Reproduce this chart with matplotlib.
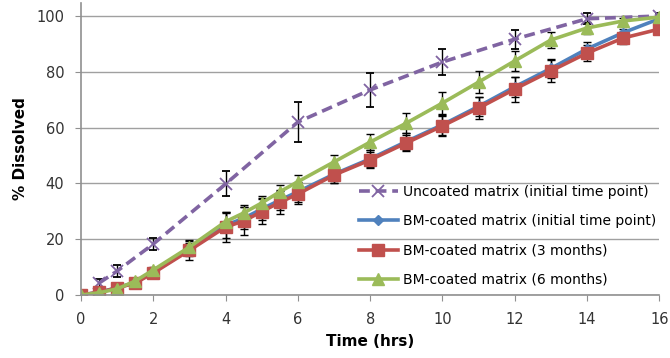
import numpy as np
import matplotlib.pyplot as plt

t_unc = np.array([0.5, 1, 2, 4, 6, 8, 10, 12, 14, 16])
unc = np.array([4.3, 8.6, 18.3, 39.8, 62.0, 73.5, 83.5, 91.7, 99.0, 100.0])
unc_err = np.array([1.5, 2.2, 2.2, 4.5, 7.0, 6.2, 4.6, 3.4, 2.0, 1.0])

t = np.array([0, 0.5, 1, 1.5, 2, 3, 4, 4.5, 5, 5.5, 6, 7, 8, 9, 10, 11, 12, 13, 14, 15, 16])
bm0 = np.array([0, 1.0, 2.6, 4.5, 8.2, 16.3, 25.0, 27.5, 30.8, 34.0, 37.0, 43.3, 48.8, 55.0, 61.0, 67.6, 74.6, 81.2, 88.2, 94.0, 99.0])
bm0_err = np.array([0, 0.5, 0.8, 1.0, 1.2, 2.5, 4.5, 4.0, 4.0, 3.5, 3.5, 3.0, 3.0, 3.0, 3.5, 3.5, 3.5, 3.5, 2.5, 1.5, 1.0])
bm3 = np.array([0, 1.0, 2.5, 4.3, 7.9, 16.0, 24.4, 26.5, 29.9, 33.2, 36.2, 43.0, 48.4, 54.5, 60.6, 67.0, 73.8, 80.3, 86.7, 92.1, 95.3])
bm3_err = np.array([0, 0.5, 0.8, 1.0, 1.2, 3.5, 5.5, 5.0, 4.5, 4.0, 3.5, 3.0, 3.0, 3.0, 3.5, 4.0, 4.5, 4.0, 3.0, 2.0, 1.0])
bm6 = np.array([0, 0.8, 2.2, 5.0, 9.0, 17.2, 26.3, 29.4, 33.0, 37.0, 40.6, 47.7, 54.8, 61.6, 68.8, 76.3, 83.9, 91.4, 95.7, 98.2, 99.6])
bm6_err = np.array([0, 0.5, 0.8, 1.0, 1.2, 2.5, 3.5, 3.0, 2.5, 2.5, 2.5, 2.5, 3.0, 3.5, 4.0, 4.0, 3.5, 3.0, 2.0, 1.0, 1.0])

fig = plt.figure(figsize=(6.7, 3.58), dpi=100)
ax = fig.add_axes([0.121, 0.176, 0.863, 0.816])

ebkw = dict(ecolor="black", elinewidth=1, capsize=3, capthick=1)

c1 = ax.errorbar(t_unc, unc, yerr=unc_err, color="#8064A2", linestyle="--",
                 dashes=(3, 1.6), linewidth=2.6, marker="x", markersize=8,
                 markeredgewidth=1.3, label="Uncoated matrix (initial time point)", **ebkw)
c2 = ax.errorbar(t, bm0, yerr=bm0_err, color="#4F81BD", linestyle="-",
                 linewidth=2.6, marker="D", markersize=5,
                 label="BM-coated matrix (initial time point)", **ebkw)
c3 = ax.errorbar(t, bm3, yerr=bm3_err, color="#C0504D", linestyle="-",
                 linewidth=2.6, marker="s", markersize=8,
                 label="BM-coated matrix (3 months)", **ebkw)
c4 = ax.errorbar(t, bm6, yerr=bm6_err, color="#9BBB59", linestyle="-",
                 linewidth=2.6, marker="^", markersize=9,
                 label="BM-coated matrix (6 months)", **ebkw)

ax.set_xlim(0, 16)
ax.set_ylim(0, 104.7)
ax.set_xticks(np.arange(0, 17, 2))
ax.set_yticks(np.arange(0, 101, 20))
ax.grid(axis="y", color="#A0A0A0", linewidth=1)
ax.set_axisbelow(True)
for s in ["top", "right"]:
    ax.spines[s].set_visible(False)
for s in ["left", "bottom"]:
    ax.spines[s].set_color("#909090")
    ax.spines[s].set_linewidth(1.2)
ax.tick_params(colors="#909090", labelcolor="#333333", labelsize=10.5, length=4)
ax.tick_params(axis="x", pad=8)
ax.tick_params(axis="y", pad=8)

ax.set_xlabel("Time (hrs)", fontsize=11, fontweight="bold", labelpad=5)
ax.set_ylabel("% Dissolved", fontsize=11, fontweight="bold", labelpad=6)

handles = [c[0] for c in (c1, c2, c3, c4)]
labels = [c.get_label() for c in (c1, c2, c3, c4)]
ax.legend(handles, labels, loc="lower right", frameon=False, fontsize=10,
          handlelength=2.8, handletextpad=0.4, labelspacing=1.1,
          borderaxespad=0.2, bbox_to_anchor=(1.01, 0.0))

fig.savefig("out.png", dpi=100)
